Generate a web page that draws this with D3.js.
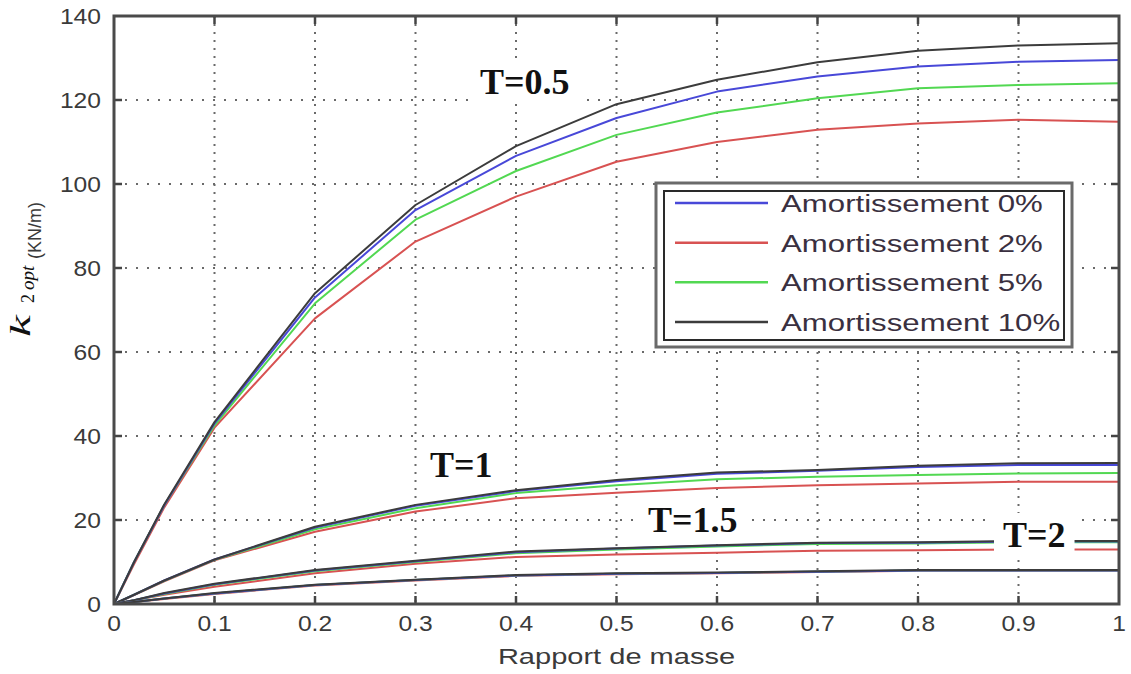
<!DOCTYPE html>
<html>
<head>
<meta charset="utf-8">
<script src="https://cdn.jsdelivr.net/npm/d3@7"></script>
<style>
  html, body { margin: 0; padding: 0; background: #fff; }
  svg { display: block; }
</style>
</head>
<body>
<svg id="chart" width="1131" height="674"></svg>
<script>
// ---------------- DATA ----------------
const massRatio = [0, 0.02, 0.05, 0.1, 0.2, 0.3, 0.4, 0.5, 0.6, 0.7, 0.8, 0.9, 1.0];

const seriesNames = ["Amortissement 0%", "Amortissement 2%", "Amortissement 5%", "Amortissement 10%"];

// T = 0.5
const t05_damp0  = [0, 10.0, 23.5, 43.0, 73.0, 93.8, 106.7, 115.7, 122.0, 125.6, 128.0, 129.1, 129.5];
const t05_damp2  = [0,  9.5, 23.0, 42.0, 68.0, 86.3, 97.0, 105.3, 110.0, 112.9, 114.4, 115.3, 114.8];
const t05_damp5  = [0, 10.0, 23.5, 42.5, 71.6, 91.5, 103.1, 111.7, 117.0, 120.4, 122.8, 123.6, 124.0];
const t05_damp10 = [0, 10.0, 23.7, 43.3, 74.0, 95.0, 109.0, 119.0, 124.8, 129.0, 131.7, 133.0, 133.5];

// T = 1
const t1_damp0  = [0, 2.2, 5.6, 10.6, 18.2, 23.4, 26.9, 29.2, 31.0, 31.7, 32.6, 33.1, 33.1];
const t1_damp2  = [0, 2.1, 5.4, 10.4, 17.2, 22.0, 25.2, 26.5, 27.6, 28.3, 28.7, 29.1, 29.1];
const t1_damp5  = [0, 2.2, 5.5, 10.5, 17.8, 22.8, 26.4, 28.3, 29.7, 30.3, 30.7, 31.1, 31.2];
const t1_damp10 = [0, 2.2, 5.6, 10.6, 18.4, 23.6, 27.1, 29.5, 31.3, 31.9, 32.9, 33.5, 33.6];

// T = 1.5
const t15_damp0  = [0, 0.9, 2.5, 4.7, 8.0, 10.2, 12.3, 13.2, 13.9, 14.5, 14.6, 14.9, 14.9];
const t15_damp2  = [0, 0.9, 2.2, 4.1, 7.3, 9.6, 11.2, 11.8, 12.2, 12.7, 12.8, 13.0, 13.0];
const t15_damp5  = [0, 0.9, 2.4, 4.6, 7.8, 10.0, 12.1, 13.0, 13.7, 14.3, 14.4, 14.7, 14.7];
const t15_damp10 = [0, 0.9, 2.6, 4.8, 8.1, 10.3, 12.5, 13.3, 14.0, 14.6, 14.7, 15.0, 15.0];

// T = 2
const t2_damp0  = [0, 0.5, 1.3, 2.5, 4.5, 5.7, 6.8, 7.2, 7.4, 7.7, 8.0, 8.0, 8.0];
const t2_damp2  = [0, 0.5, 1.2, 2.4, 4.4, 5.6, 6.7, 7.1, 7.3, 7.6, 7.9, 7.9, 7.9];
const t2_damp5  = [0, 0.5, 1.3, 2.5, 4.5, 5.7, 6.8, 7.2, 7.4, 7.7, 8.0, 8.0, 8.0];
const t2_damp10 = [0, 0.5, 1.3, 2.6, 4.6, 5.8, 6.9, 7.3, 7.5, 7.8, 8.1, 8.1, 8.1];

const curveLabels = ["T=0.5", "T=1", "T=1.5", "T=2"];

const xTickValues = [0, 0.1, 0.2, 0.3, 0.4, 0.5, 0.6, 0.7, 0.8, 0.9, 1];
const xTickLabels = ["0", "0.1", "0.2", "0.3", "0.4", "0.5", "0.6", "0.7", "0.8", "0.9", "1"];
const yTickValues = [0, 20, 40, 60, 80, 100, 120, 140];
const yTickLabels = ["0", "20", "40", "60", "80", "100", "120", "140"];

const xAxisTitle = "Rapport de masse";

// ---------------- STYLE / LAYOUT ----------------
const colors = ["#4848d8", "#d85252", "#52d852", "#3c3c3c"];
const drawOrder = [1, 2, 0, 3];
const plot = { left: 114, right: 1119, top: 16, bottom: 604 };
const sansFont = "'Liberation Sans', Arial, sans-serif";
const serifFont = "'Liberation Serif', 'Times New Roman', serif";

const groups = [
  [t05_damp0, t05_damp2, t05_damp5, t05_damp10],
  [t1_damp0, t1_damp2, t1_damp5, t1_damp10],
  [t15_damp0, t15_damp2, t15_damp5, t15_damp10],
  [t2_damp0, t2_damp2, t2_damp5, t2_damp10]
];

const svg = d3.select("#chart");
const x = d3.scaleLinear().domain([0, 1]).range([plot.left, plot.right]);
const y = d3.scaleLinear().domain([0, 140]).range([plot.bottom, plot.top]);

function stretchedText(parent, px, py, str, opts) {
  const t = parent.append("text")
    .attr("transform", `translate(${px},${py}) scale(${opts.sx || 1},1)`)
    .attr("x", 0).attr("y", 0)
    .attr("font-family", opts.family || sansFont)
    .attr("font-size", opts.size || 22)
    .attr("fill", opts.fill || "#333")
    .attr("text-anchor", opts.anchor || "start")
    .text(str);
  if (opts.weight) t.attr("font-weight", opts.weight);
  if (opts.style) t.attr("font-style", opts.style);
  return t;
}

// ---------------- GRID ----------------
const grid = svg.append("g");
grid.selectAll("line.vg")
  .data(xTickValues.filter(v => v > 0 && v < 1))
  .join("line")
  .attr("x1", d => x(d)).attr("x2", d => x(d))
  .attr("y1", plot.top).attr("y2", plot.bottom)
  .attr("stroke", "#6a6a6a").attr("stroke-width", 2)
  .attr("stroke-dasharray", "2,6");
grid.selectAll("line.hg")
  .data(yTickValues.filter(v => v > 0 && v < 140))
  .join("line")
  .attr("x1", plot.left).attr("x2", plot.right)
  .attr("y1", d => y(d)).attr("y2", d => y(d))
  .attr("stroke", "#6a6a6a").attr("stroke-width", 2)
  .attr("stroke-dasharray", "2,9");

// ---------------- CURVES ----------------
const line = d3.line().x((d, i) => x(massRatio[i])).y(d => y(d));
const curves = svg.append("g");
groups.forEach(g => {
  drawOrder.forEach(k => {
    curves.append("path")
      .datum(g[k])
      .attr("d", line)
      .attr("fill", "none")
      .attr("stroke", colors[k])
      .attr("stroke-width", 2)
      .attr("stroke-linejoin", "round");
  });
});

// ---------------- CURVE LABELS ----------------
const labelPos = [
  { px: 480, py: 94, padX: 10, padY: 2 },
  { px: 430, py: 477, padX: 0, padY: 0, noBox: true },
  { px: 648, py: 532, padX: 6, padY: 0 },
  { px: 1003, py: 547, padX: 9, padY: 2 }
];
curveLabels.forEach((lab, i) => {
  const p = labelPos[i];
  const g = svg.append("g");
  const rect = g.append("rect").attr("fill", "#fff");
  const t = g.append("text")
    .attr("x", p.px).attr("y", p.py)
    .attr("font-family", serifFont)
    .attr("font-weight", "bold")
    .attr("font-size", 36)
    .attr("fill", "#111")
    .text(lab);
  if (!p.noBox) {
    const bb = t.node().getBBox();
    rect.attr("x", bb.x - p.padX).attr("y", bb.y - p.padY)
      .attr("width", bb.width + 2 * p.padX).attr("height", bb.height + 2 * p.padY);
  }
});

// ---------------- AXES FRAME & TICKS ----------------
const frame = svg.append("g");
const tickLen = 8;
const innerX = xTickValues.filter(v => v > 0 && v < 1);
const innerY = yTickValues.filter(v => v > 0 && v < 140);
[[plot.bottom, -tickLen], [plot.top, tickLen]].forEach(([yy, dir]) => {
  frame.append("g").selectAll("line")
    .data(innerX).join("line")
    .attr("x1", d => x(d)).attr("x2", d => x(d))
    .attr("y1", yy).attr("y2", yy + dir)
    .attr("stroke", "#444").attr("stroke-width", 2.5);
});
[[plot.left, tickLen], [plot.right, -tickLen]].forEach(([xx, dir]) => {
  frame.append("g").selectAll("line")
    .data(innerY).join("line")
    .attr("x1", xx).attr("x2", xx + dir)
    .attr("y1", d => y(d)).attr("y2", d => y(d))
    .attr("stroke", "#444").attr("stroke-width", 2.5);
});
frame.append("rect")
  .attr("x", plot.left).attr("y", plot.top)
  .attr("width", plot.right - plot.left).attr("height", plot.bottom - plot.top)
  .attr("fill", "none").attr("stroke", "#4a4a4a").attr("stroke-width", 3);

// tick labels
const tl = svg.append("g");
xTickValues.forEach((v, i) => {
  stretchedText(tl, x(v), 631, xTickLabels[i], { size: 22, sx: 1.12, anchor: "middle", fill: "#3a3a3a" });
});
yTickValues.forEach((v, i) => {
  stretchedText(tl, 101, y(v) + 8, yTickLabels[i], { size: 22, sx: 1.12, anchor: "end", fill: "#3a3a3a" });
});

// axis titles
stretchedText(svg, (plot.left + plot.right) / 2, 664, xAxisTitle, { size: 22, sx: 1.32, anchor: "middle", fill: "#3a3a3a" });

const yl = svg.append("g");
yl.append("text")
  .attr("transform", "translate(30,337) rotate(-90) scale(1.7,1)")
  .attr("font-family", serifFont).attr("font-style", "italic")
  .attr("font-size", 29).attr("fill", "#111").text("k");
yl.append("text")
  .attr("transform", "translate(34,303) rotate(-90)")
  .attr("font-family", serifFont)
  .attr("font-size", 18).attr("fill", "#111").text("2");
yl.append("text")
  .attr("transform", "translate(34,290) rotate(-90)")
  .attr("font-family", serifFont).attr("font-style", "italic")
  .attr("font-size", 19).attr("fill", "#111").text("opt");
yl.append("text")
  .attr("transform", "translate(41,259) rotate(-90)")
  .attr("font-family", sansFont)
  .attr("font-size", 18).attr("fill", "#3a3a3a").text("(KN/m)");

// ---------------- LEGEND ----------------
const lg = svg.append("g");
lg.append("rect").attr("x", 656).attr("y", 183).attr("width", 416).attr("height", 164)
  .attr("fill", "#fff").attr("stroke", "#6a6a6a").attr("stroke-width", 3);
lg.append("rect").attr("x", 664).attr("y", 191).attr("width", 400).attr("height", 149)
  .attr("fill", "#fff").attr("stroke", "#2a2a2a").attr("stroke-width", 2);
const rowY = d3.scalePoint().domain(d3.range(seriesNames.length)).range([203, 322]);
seriesNames.forEach((name, i) => {
  lg.append("line")
    .attr("x1", 675).attr("x2", 768)
    .attr("y1", rowY(i)).attr("y2", rowY(i))
    .attr("stroke", colors[i]).attr("stroke-width", 2.5);
  stretchedText(lg, 781, rowY(i) + 9, name, { size: 24, sx: 1.3, fill: "#3a3040" });
});
</script>
</body>
</html>
